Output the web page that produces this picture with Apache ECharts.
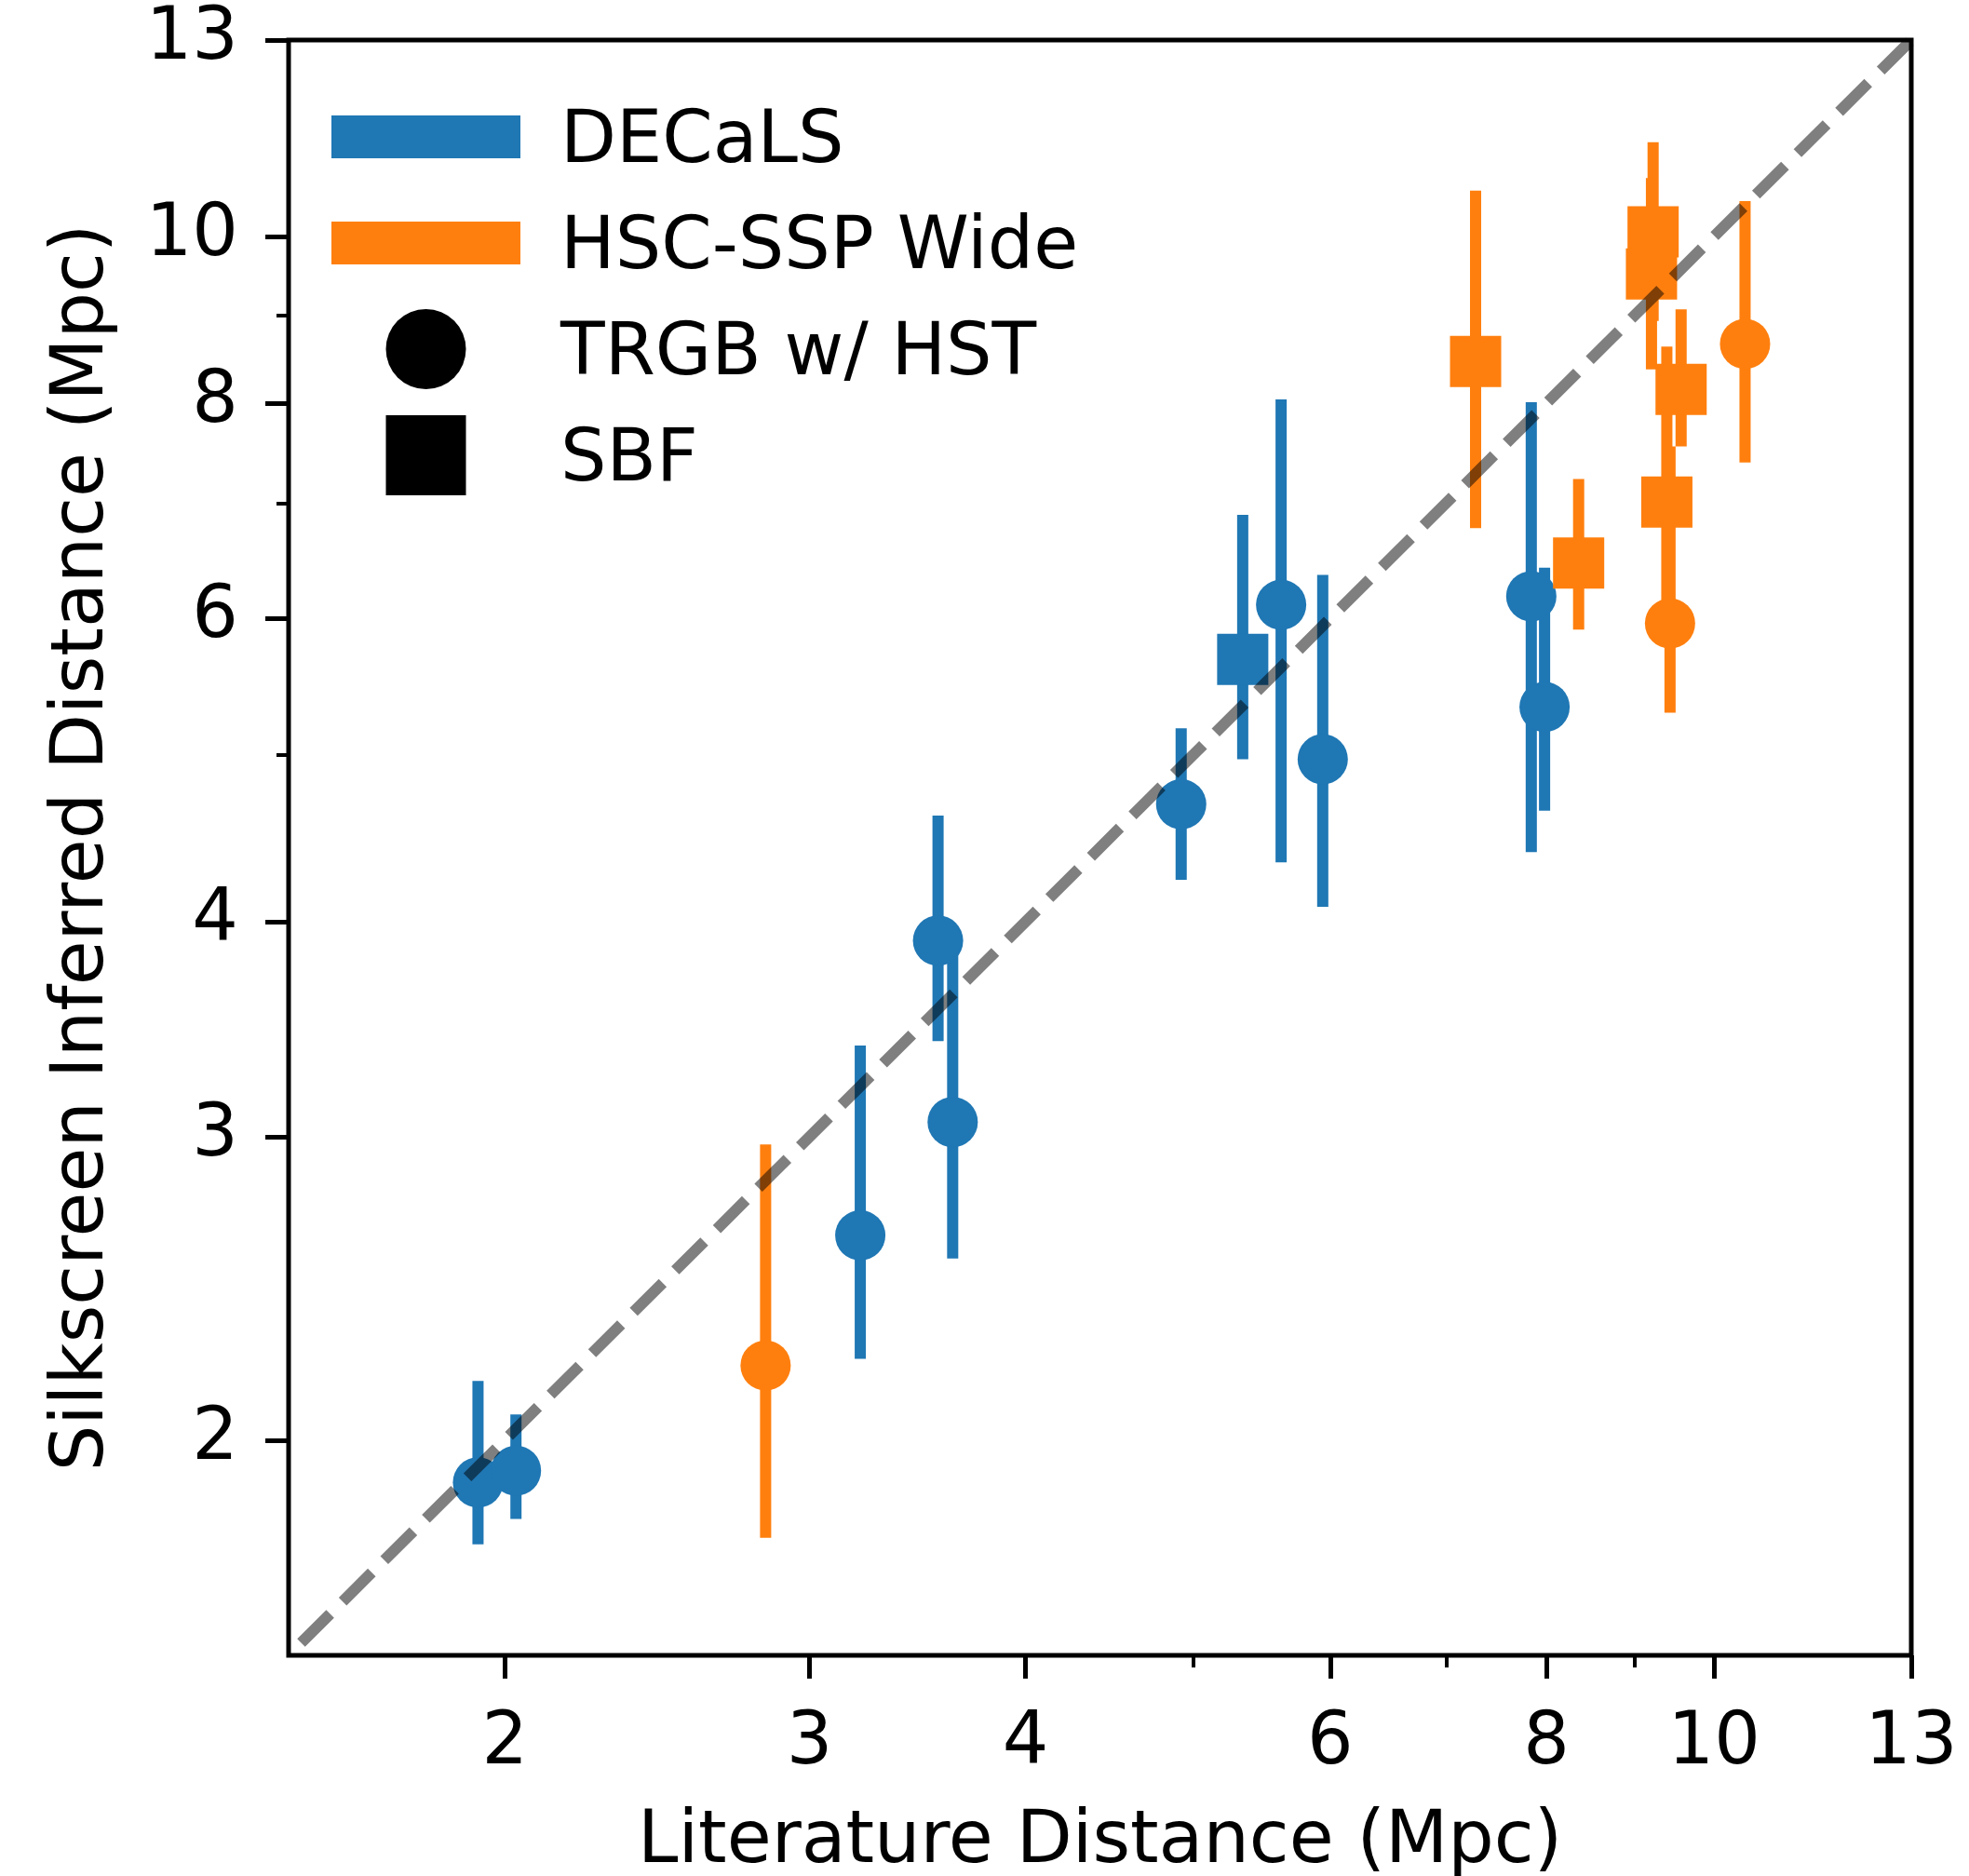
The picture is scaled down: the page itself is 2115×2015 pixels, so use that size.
<!DOCTYPE html>
<html>
<head>
<meta charset="utf-8">
<title>Silkscreen vs literature distance</title>
<script src="https://cdn.jsdelivr.net/npm/echarts@6/dist/echarts.min.js"></script>
<style>
  html, body { margin: 0; padding: 0; background: #fff; }
  #chart { width: 2115px; height: 2015px; }
</style>
</head>
<body>
<div id="chart"></div>
<script>
// DECaLS, TRGB w/ HST (circles)
var decTrgbLit  = [1.93, 2.03, 3.21, 3.56, 3.63, 4.92, 5.62, 5.94, 7.84, 7.98];
var decTrgbSilk = [1.89, 1.92, 2.63, 3.90, 3.06, 4.68, 6.11, 4.97, 6.18, 5.33];
var decTrgbLo   = [1.74, 1.80, 2.23, 3.41, 2.55, 4.23, 4.33, 4.08, 4.39, 4.64];
var decTrgbHi   = [2.165, 2.07, 3.39, 4.61, 3.95, 5.18, 8.04, 6.36, 8.01, 6.42];

// DECaLS, SBF (squares)
var decSbfLit  = [5.34];
var decSbfSilk = [5.68];
var decSbfLo   = [4.97];
var decSbfHi   = [6.89];

// HSC-SSP Wide, TRGB w/ HST
var hscTrgbLit  = [2.83, 9.43, 10.42];
var hscTrgbSilk = [2.21, 5.96, 8.66];
var hscTrgbLo   = [1.755, 5.29, 7.39];
var hscTrgbHi   = [2.97, 7.55, 10.48];

// HSC-SSP Wide, SBF
var hscSbfLit  = [7.28, 9.22, 9.20, 9.57, 9.39, 8.35];
var hscSbfSilk = [8.46, 10.06, 9.51, 8.15, 7.01, 6.46];
var hscSbfLo   = [6.77, 8.93, 8.37, 7.55, 5.81, 5.91];
var hscSbfHi   = [10.63, 11.34, 10.81, 9.07, 8.63, 7.23];

var axisRange  = [1.5, 13];
var majorTicks = [2, 3, 4, 6, 8, 10, 13];
var minorTicks = [5, 7, 9];
var oneToOne   = [1.5, 13];

var blue = '#1f77b4', orange = '#ff7f0e';
var font = 'DejaVu Sans';
var fs = 78;
var lg = Math.log10;

function pts(xs, ys) {
  return xs.map(function (x, i) { return [lg(x), lg(ys[i])]; });
}
function bars(xs, lo, hi) {
  return xs.map(function (x, i) { return [lg(x), lg(lo[i]), lg(hi[i])]; });
}
function barItem(params, api) {
  var a = api.coord([api.value(0), api.value(2)]);
  var b = api.coord([api.value(0), api.value(1)]);
  return {
    type: 'line',
    shape: { x1: a[0], y1: a[1], x2: b[0], y2: b[1] },
    style: { stroke: api.visual('color'), lineWidth: 12, lineCap: 'butt' }
  };
}
function fmt(v) { return String(Math.round(Math.pow(10, v))); }

var lgMin = lg(axisRange[0]), lgMax = lg(axisRange[1]);
var gridPos = { left: 310, right: 62, top: 43, bottom: 237, containLabel: false, outerBoundsMode: 'none' };

function mainAxis(name, gap, margin) {
  return {
    type: 'value', gridIndex: 0, min: lgMin, max: lgMax,
    name: name, nameLocation: 'middle', nameGap: gap,
    nameTextStyle: { fontFamily: font, fontSize: fs, color: '#000' },
    axisLine: { show: false },
    splitLine: { show: false },
    axisTick: { show: true, length: 25, lineStyle: { color: '#000', width: 5 },
                customValues: majorTicks.map(lg) },
    axisLabel: { show: true, margin: margin, fontFamily: font, fontSize: fs, color: '#000',
                 customValues: majorTicks.map(lg), formatter: fmt }
  };
}
function minorAxis() {
  return {
    type: 'value', gridIndex: 1, min: lgMin, max: lgMax,
    axisLine: { show: false },
    splitLine: { show: false },
    axisLabel: { show: false },
    axisTick: { show: true, length: 13, lineStyle: { color: '#000', width: 4 },
                customValues: minorTicks.map(lg) }
  };
}

var chart = echarts.init(document.getElementById('chart'));
chart.setOption({
  animation: false,
  backgroundColor: '#fff',
  grid: [
    Object.assign({ show: true, borderColor: '#000', borderWidth: 5 }, gridPos),
    Object.assign({ show: false }, gridPos)
  ],
  xAxis: [mainAxis('Literature Distance (Mpc)', 163, 57), minorAxis()],
  yAxis: [mainAxis('Silkscreen Inferred Distance (Mpc)', 181, 54), minorAxis()],
  legend: {
    orient: 'vertical', left: 356, top: 101, padding: 0,
    itemWidth: 203, itemHeight: 86, itemGap: 22,
    symbolKeepAspect: true,
    selectedMode: false,
    formatter: '{t|{name}}',
    textStyle: {
      fontFamily: font, fontSize: fs, color: '#000',
      rich: { t: { fontFamily: font, fontSize: fs, color: '#000', lineHeight: 72, padding: [14, 0, 0, 38] } }
    },
    data: [
      { name: 'DECaLS', icon: 'path://M0,0H203V46H0Z', itemStyle: { color: blue } },
      { name: 'HSC-SSP Wide', icon: 'path://M0,0H203V46H0Z', itemStyle: { color: orange } },
      { name: 'TRGB w/ HST', icon: 'circle', itemStyle: { color: '#000' } },
      { name: 'SBF', icon: 'path://M0,0H1V1H0Z', itemStyle: { color: '#000' } }
    ]
  },
  series: [
    {
      name: 'DECaLS', type: 'custom', renderItem: barItem,
      itemStyle: { color: blue }, encode: { x: 0, y: [1, 2] },
      data: bars(decTrgbLit, decTrgbLo, decTrgbHi).concat(bars(decSbfLit, decSbfLo, decSbfHi)),
      z: 2
    },
    {
      name: 'HSC-SSP Wide', type: 'custom', renderItem: barItem,
      itemStyle: { color: orange }, encode: { x: 0, y: [1, 2] },
      data: bars(hscTrgbLit, hscTrgbLo, hscTrgbHi).concat(bars(hscSbfLit, hscSbfLo, hscSbfHi)),
      z: 2
    },
    {
      name: 'TRGB w/ HST', type: 'scatter', symbol: 'circle', symbolSize: 54,
      itemStyle: { color: blue, opacity: 1 }, emphasis: { disabled: true },
      data: pts(decTrgbLit, decTrgbSilk), z: 3
    },
    {
      name: 'SBF', type: 'scatter', symbol: 'rect', symbolSize: 55,
      itemStyle: { color: blue, opacity: 1 }, emphasis: { disabled: true },
      data: pts(decSbfLit, decSbfSilk), z: 3
    },
    {
      name: 'TRGB w/ HST', type: 'scatter', symbol: 'circle', symbolSize: 54,
      itemStyle: { color: orange, opacity: 1 }, emphasis: { disabled: true },
      data: pts(hscTrgbLit, hscTrgbSilk), z: 3
    },
    {
      name: 'SBF', type: 'scatter', symbol: 'rect', symbolSize: 55,
      itemStyle: { color: orange, opacity: 1 }, emphasis: { disabled: true },
      data: pts(hscSbfLit, hscSbfSilk), z: 3
    },
    {
      name: 'one-to-one', type: 'line', symbol: 'none', silent: true,
      lineStyle: { color: '#000', opacity: 0.5, width: 12, type: [44, 19], dashOffset: 44, cap: 'butt' },
      data: pts(oneToOne, oneToOne), z: 5
    }
  ]
});
</script>
</body>
</html>
